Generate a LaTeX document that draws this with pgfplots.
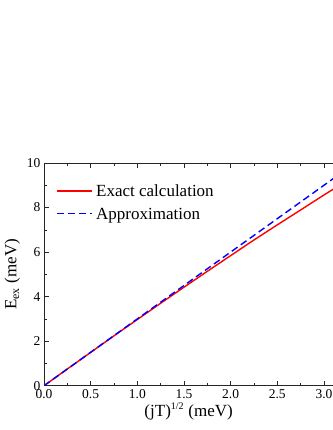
\documentclass[border=0pt]{standalone}
\usepackage{fontspec}
\setmainfont{Liberation Serif}
\usepackage{pgfplots}
\pgfplotsset{compat=1.18}
\begin{document}
\begin{tikzpicture}
\path[use as bounding box] (0,0) rectangle (332pt,430pt);
\begin{axis}[
  scale only axis,
  width=289.3pt, height=222.7pt,
  at={(44pt,44.3pt)}, anchor=south west,
  xmin=0, xmax=3.1, ymin=0, ymax=10,
  xtick={0,0.5,...,3.0}, ytick={0,2,...,10},
  minor x tick num=1, minor y tick num=1,
  ytick pos=left,
  xticklabel style={/pgf/number format/.cd, fixed, fixed zerofill, precision=1},
  /pgf/number format/assume math mode=true,
  tick align=inside,
  major tick length=5pt, minor tick length=3pt,
  axis line style={line width=0.8pt, black!85},
  tick style={black!85, line width=0.6pt},
  tick label style={font=\fontsize{13.5}{15}\selectfont},
  label style={font=\fontsize{17}{20}\selectfont},
  xlabel={(jT)\textsuperscript{\fontsize{10}{10}\selectfont 1/2} (meV)},
  ylabel={E\textsubscript{ex} (meV)},
  xlabel style={yshift=2pt},
]
\addplot[red, line width=1.4pt] coordinates {
(0,0) (0.25,0.7497) (0.5,1.495) (0.75,2.240) (1.0,2.972) (1.25,3.702)
(1.5,4.423) (1.75,5.136) (2.0,5.842) (2.25,6.543) (2.5,7.223)
(2.75,7.891) (3.0,8.564) (3.1,8.826)};
\addplot[blue, line width=1.4pt, dash pattern=on 7pt off 4pt] coordinates {
(0,0) (0.5,1.5) (1.0,3.0) (1.5,4.5) (2.0,6.0) (2.5,7.5) (3.0,9.0) (3.1,9.3)};
% legend samples
\addplot[red, line width=1.4pt, forget plot] coordinates {(0.139,8.74) (0.514,8.74)};
\addplot[blue, line width=1.4pt, dash pattern=on 7pt off 4pt, forget plot] coordinates {(0.139,7.73) (0.514,7.73)};
\node[anchor=base west, inner sep=0pt, font=\fontsize{17}{20}\selectfont] at (axis cs:0.557,8.49) {Exact calculation};
\node[anchor=base west, inner sep=0pt, font=\fontsize{17}{20}\selectfont] at (axis cs:0.557,7.48) {Approximation};
\end{axis}
\end{tikzpicture}
\end{document}
